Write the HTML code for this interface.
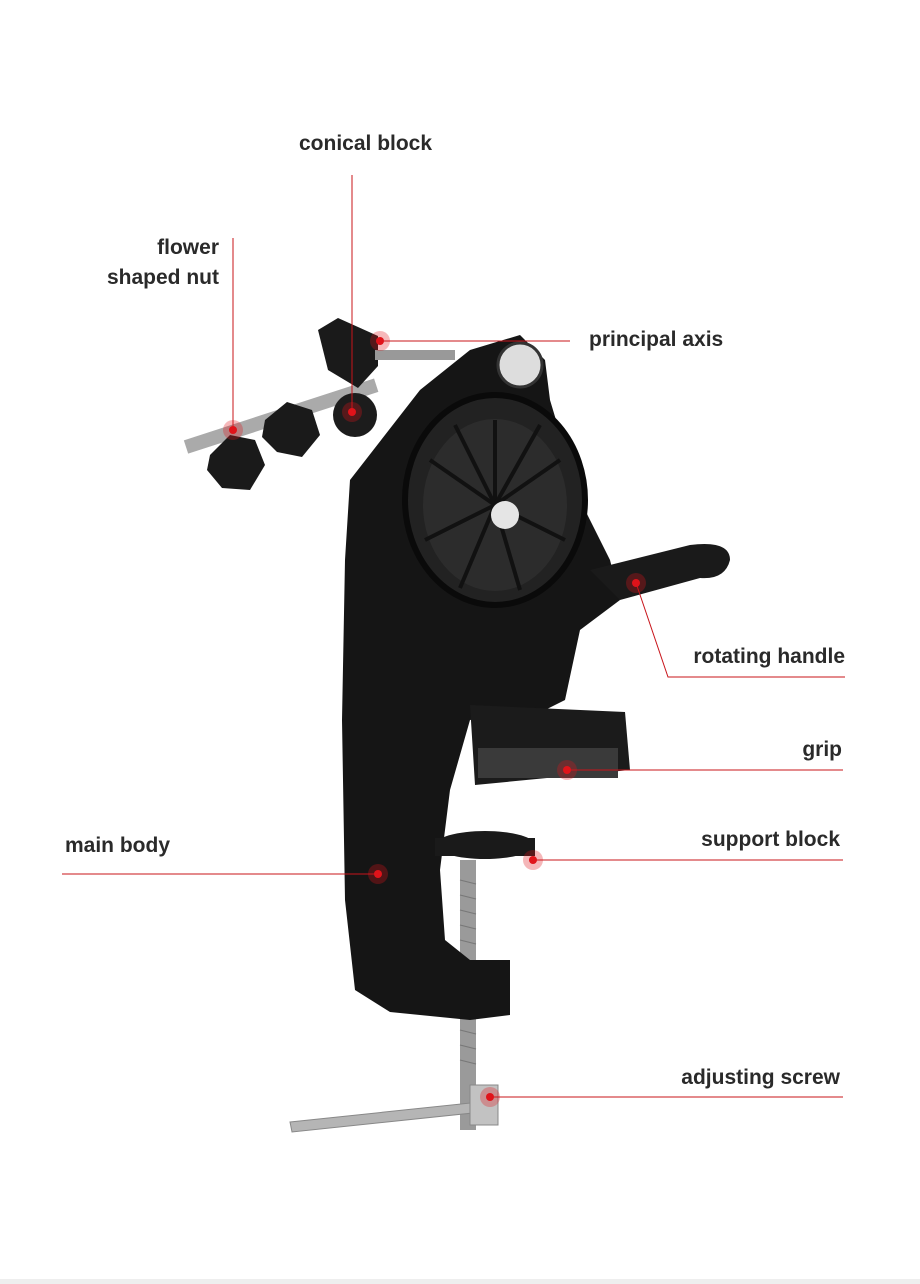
<!DOCTYPE html>
<html><head><meta charset="utf-8"><style>
html,body{margin:0;padding:0;background:#fff}
.w{position:relative;width:920px;height:1284px;overflow:hidden;background:#fff;font-family:"Liberation Sans",sans-serif}
.t{position:absolute;font-size:21px;font-weight:bold;color:#2a2a2a;line-height:30px;white-space:nowrap}
svg{position:absolute;left:0;top:0}
</style></head><body><div class="w">
<svg width="920" height="1284" viewBox="0 0 920 1284">
<!-- screw & handle bar -->
<rect x="460" y="860" width="16" height="270" fill="#9a9a9a"/>
<g stroke="#777" stroke-width="1">
<line x1="460" y1="880" x2="476" y2="884"/><line x1="460" y1="895" x2="476" y2="899"/><line x1="460" y1="910" x2="476" y2="914"/><line x1="460" y1="925" x2="476" y2="929"/><line x1="460" y1="940" x2="476" y2="944"/><line x1="460" y1="1030" x2="476" y2="1034"/><line x1="460" y1="1045" x2="476" y2="1049"/><line x1="460" y1="1060" x2="476" y2="1064"/></g>
<path d="M290 1122 L480 1102 L482 1112 L292 1132 Z" fill="#b5b5b5" stroke="#888"/>
<rect x="470" y="1085" width="28" height="40" fill="#c2c2c2" stroke="#888"/>
<!-- side bolts -->
<rect x="186" y="440" width="200" height="14" fill="#aaa" transform="rotate(-18 186 447)"/>
<path d="M210 455 l20 -20 l25 5 l10 25 l-15 25 l-28 -2 l-15 -18z" fill="#1a1a1a"/>
<path d="M265 420 l22 -18 l25 8 l8 25 l-18 22 l-25 -5 l-15 -15z" fill="#1a1a1a"/>
<circle cx="355" cy="415" r="22" fill="#1c1c1c"/>
<path d="M318 330 l20 -12 l40 18 l0 30 l-20 22 l-30 -18z" fill="#1a1a1a"/>
<rect x="375" y="350" width="80" height="10" fill="#999"/>
<!-- main body -->
<path d="M350 480 L420 390 L470 350 L520 335 L545 360 L550 400 L580 500 L610 560 L620 600 L580 630 L565 700 L545 710 L470 720 L450 790 L440 870 L445 940 L470 960 L510 960 L510 1015 L470 1020 L390 1012 L355 990 L345 900 L342 720 L345 560 Z" fill="#151515"/>
<circle cx="520" cy="365" r="22" fill="#ddd" stroke="#333" stroke-width="3"/>
<ellipse cx="495" cy="500" rx="90" ry="105" fill="#222" stroke="#0a0a0a" stroke-width="6"/>
<ellipse cx="495" cy="505" rx="72" ry="86" fill="#2c2c2c"/>
<g stroke="#111" stroke-width="4">
<line x1="495" y1="505" x2="495" y2="420"/><line x1="495" y1="505" x2="560" y2="460"/><line x1="495" y1="505" x2="565" y2="540"/><line x1="495" y1="505" x2="520" y2="590"/><line x1="495" y1="505" x2="460" y2="588"/><line x1="495" y1="505" x2="425" y2="540"/><line x1="495" y1="505" x2="430" y2="460"/><line x1="495" y1="505" x2="455" y2="425"/><line x1="495" y1="505" x2="540" y2="425"/></g>
<circle cx="505" cy="515" r="14" fill="#e5e5e5"/>
<path d="M590 570 L690 545 Q730 540 730 560 Q725 580 700 578 L620 600 Z" fill="#1a1a1a"/>
<!-- grip -->
<path d="M470 705 L625 712 L630 770 L475 785 Z" fill="#1b1b1b"/>
<rect x="478" y="748" width="140" height="30" fill="#3a3a3a"/>
<!-- support block -->
<ellipse cx="485" cy="845" rx="50" ry="14" fill="#1a1a1a"/>
<rect x="435" y="838" width="100" height="18" fill="#1a1a1a"/>
<!-- connectors -->
<g stroke="#c8141a" stroke-width="1" fill="none">
<line x1="352" y1="175" x2="352" y2="412"/>
<line x1="233" y1="238" x2="233" y2="430"/>
<line x1="380" y1="341" x2="570" y2="341"/>
<polyline points="636,583 668,677 845,677"/>
<line x1="567" y1="770" x2="843" y2="770"/>
<line x1="533" y1="860" x2="843" y2="860"/>
<line x1="62" y1="874" x2="378" y2="874"/>
<line x1="490" y1="1097" x2="843" y2="1097"/>
</g>
<g fill="#e0141a">
<circle cx="352" cy="412" r="4"/><circle cx="233" cy="430" r="4"/><circle cx="380" cy="341" r="4"/><circle cx="636" cy="583" r="4"/><circle cx="567" cy="770" r="4"/><circle cx="533" cy="860" r="4"/><circle cx="378" cy="874" r="4"/><circle cx="490" cy="1097" r="4"/></g>
<g fill="#e0141a" opacity=".3">
<circle cx="352" cy="412" r="10"/><circle cx="233" cy="430" r="10"/><circle cx="380" cy="341" r="10"/><circle cx="636" cy="583" r="10"/><circle cx="567" cy="770" r="10"/><circle cx="533" cy="860" r="10"/><circle cx="378" cy="874" r="10"/><circle cx="490" cy="1097" r="10"/></g>
<rect x="0" y="1279" width="920" height="5" fill="#eee"/>
</svg>
<div class="t" style="left:299px;top:129px">conical block</div>
<div class="t" style="right:701px;top:233px;text-align:right">flower<br>shaped nut</div>
<div class="t" style="left:589px;top:325px">principal axis</div>
<div class="t" style="right:75px;top:642px">rotating handle</div>
<div class="t" style="right:78px;top:735px">grip</div>
<div class="t" style="right:80px;top:825px">support block</div>
<div class="t" style="left:65px;top:831px">main body</div>
<div class="t" style="right:80px;top:1063px">adjusting screw</div>
</div></body></html>
